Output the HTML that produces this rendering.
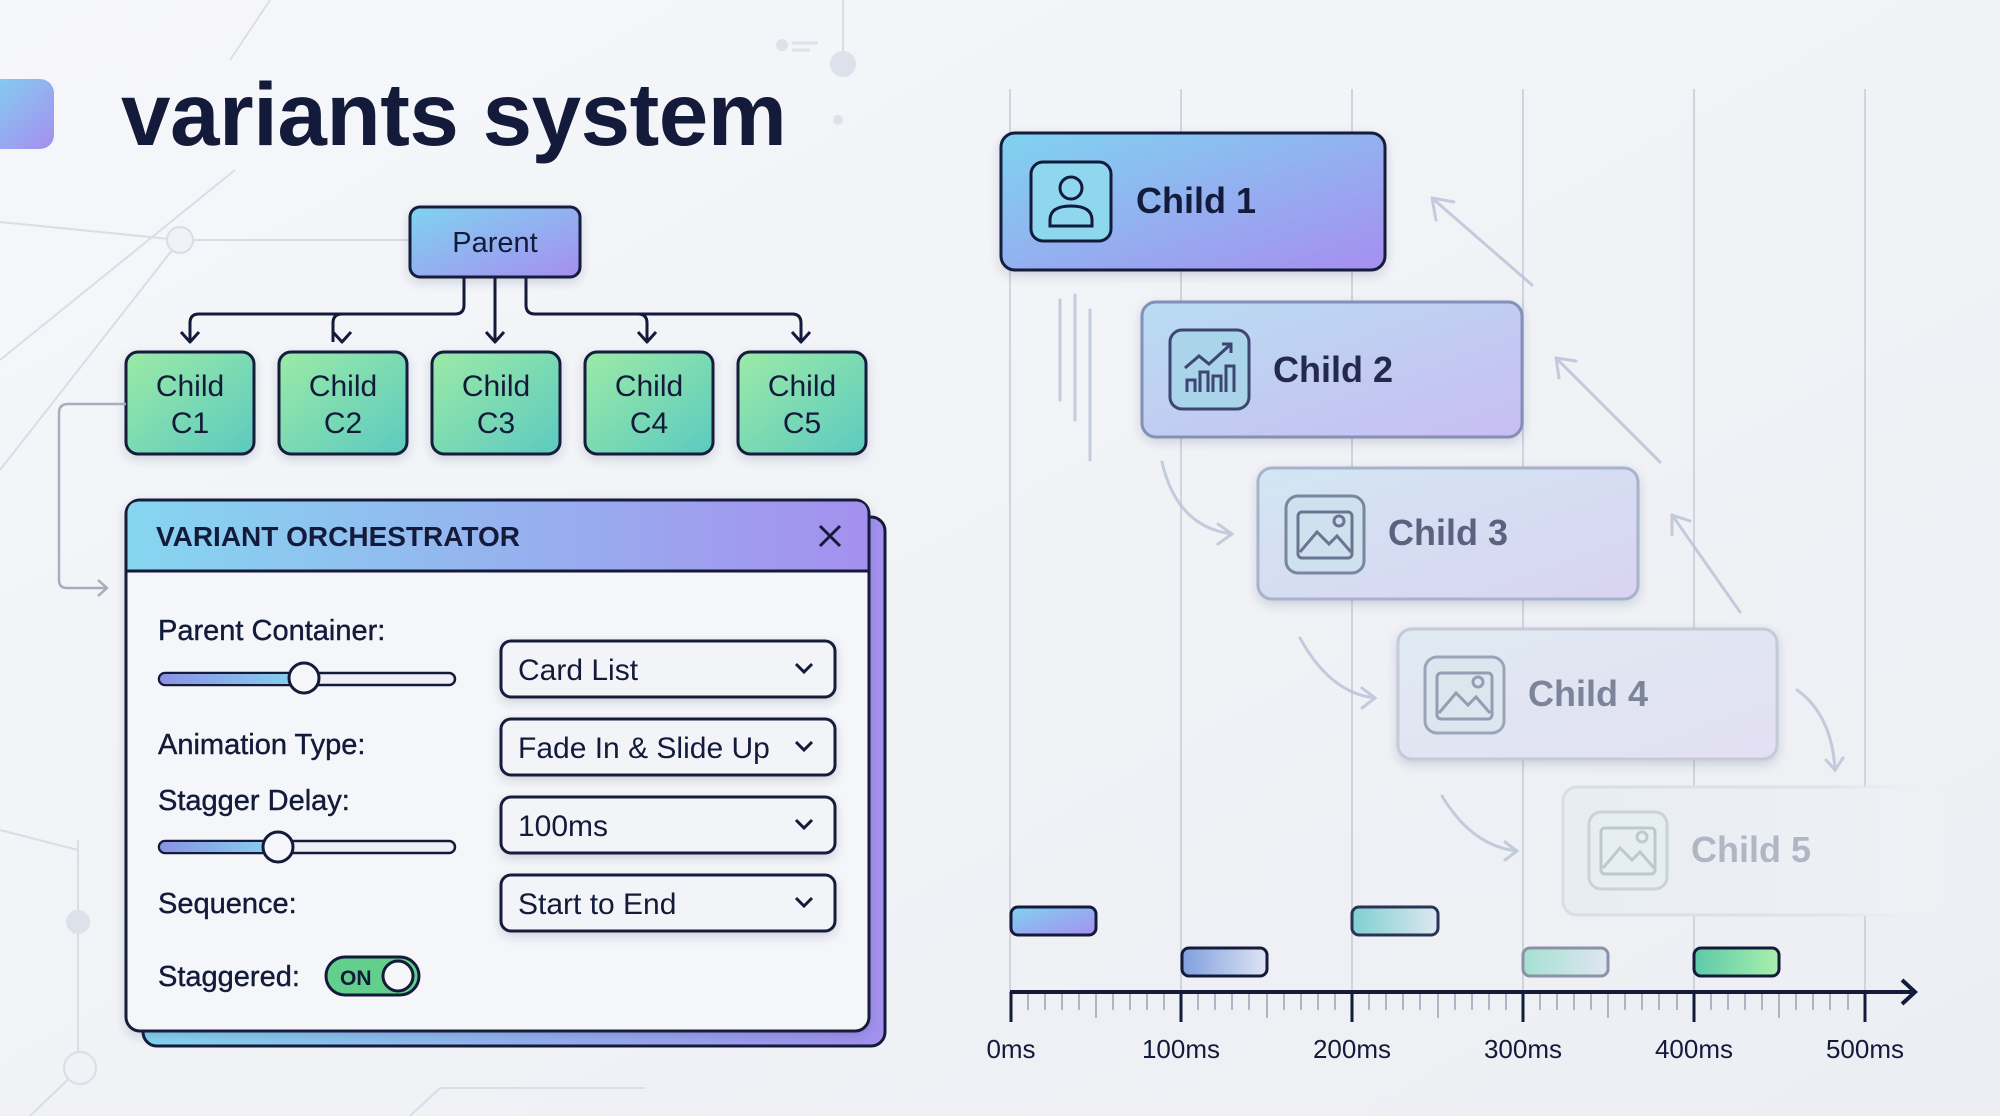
<!DOCTYPE html>
<html><head><meta charset="utf-8"><style>
html,body{margin:0;padding:0;width:2000px;height:1116px;overflow:hidden;background:#f1f2f6}
svg{display:block}
text{font-family:"Liberation Sans",sans-serif;fill:#131a3a}
</style></head><body>
<svg width="2000" height="1116" viewBox="0 0 2000 1116" xmlns="http://www.w3.org/2000/svg">
<defs>
<linearGradient id="bg" x1="0" y1="0" x2="1" y2="1"><stop offset="0" stop-color="#f6f7fa"/><stop offset="1" stop-color="#eceef3"/></linearGradient>
<linearGradient id="bp" x1="0" y1="0" x2="1" y2="1"><stop offset="0" stop-color="#7fd3f0"/><stop offset="1" stop-color="#a68ef0"/></linearGradient>
<linearGradient id="gr" x1="0" y1="0" x2="1" y2="1"><stop offset="0" stop-color="#9beaa6"/><stop offset="1" stop-color="#5ccac0"/></linearGradient>
<linearGradient id="hd" x1="0" y1="0" x2="1" y2="0"><stop offset="0" stop-color="#86d6f0"/><stop offset="1" stop-color="#a490ee"/></linearGradient>
<linearGradient id="c2" x1="0" y1="0" x2="1" y2="1"><stop offset="0" stop-color="#b9dcf2"/><stop offset="1" stop-color="#c9bdf2"/></linearGradient>
<linearGradient id="c3" x1="0" y1="0" x2="1" y2="1"><stop offset="0" stop-color="#d2e6f3"/><stop offset="1" stop-color="#d9d3f1"/></linearGradient>
<linearGradient id="c4" x1="0" y1="0" x2="1" y2="1"><stop offset="0" stop-color="#e0eaf2"/><stop offset="1" stop-color="#e2dff2"/></linearGradient>
<linearGradient id="c5" x1="0" y1="0" x2="1" y2="0"><stop offset="0" stop-color="#e8edf1"/><stop offset="1" stop-color="#eef0f4"/></linearGradient>
<linearGradient id="c5s" x1="0" y1="0" x2="1" y2="0"><stop offset="0" stop-color="#d8dde6"/><stop offset="0.7" stop-color="#dfe3ea"/><stop offset="1" stop-color="#eef0f4" stop-opacity="0"/></linearGradient>
<linearGradient id="sl" x1="0" y1="0" x2="1" y2="0"><stop offset="0" stop-color="#8a92e4"/><stop offset="1" stop-color="#86d4ef"/></linearGradient>
<linearGradient id="b2" x1="0" y1="0" x2="1" y2="0"><stop offset="0" stop-color="#7f9fe0"/><stop offset="1" stop-color="#dfe4f2"/></linearGradient>
<linearGradient id="b3" x1="0" y1="0" x2="1" y2="0"><stop offset="0" stop-color="#7fd0d0"/><stop offset="1" stop-color="#dde7f0"/></linearGradient>
<linearGradient id="b4" x1="0" y1="0" x2="1" y2="0"><stop offset="0" stop-color="#a6e0d2"/><stop offset="1" stop-color="#dfe6f0"/></linearGradient>
<linearGradient id="b5" x1="0" y1="0" x2="1" y2="0"><stop offset="0" stop-color="#5cc9a8"/><stop offset="1" stop-color="#a9f0ad"/></linearGradient>
<filter id="sh" x="-10%" y="-10%" width="130%" height="140%"><feDropShadow dx="0" dy="4" stdDeviation="5" flood-color="#2a3560" flood-opacity="0.18"/></filter>
</defs>
<rect width="2000" height="1116" fill="url(#bg)"/>
<g stroke="#d9dde6" stroke-width="2" fill="none">
<line x1="0" y1="222" x2="180" y2="240"/><line x1="180" y1="240" x2="410" y2="240"/>
<line x1="0" y1="360" x2="235" y2="170"/><line x1="180" y1="240" x2="0" y2="470"/>
<line x1="270" y1="0" x2="230" y2="60"/>
<line x1="843" y1="0" x2="843" y2="60"/>
<line x1="0" y1="830" x2="78" y2="850"/><line x1="78" y1="840" x2="78" y2="1060"/>
<line x1="30" y1="1116" x2="80" y2="1068"/><line x1="410" y1="1116" x2="440" y2="1088"/><line x1="440" y1="1088" x2="645" y2="1088"/>
<circle cx="180" cy="240" r="13" fill="#f1f2f6"/><circle cx="80" cy="1068" r="16" fill="#f1f2f6"/>
</g>
<circle cx="843" cy="64" r="13" fill="#dde1e9"/><circle cx="838" cy="120" r="5" fill="#dde1e9"/><circle cx="78" cy="922" r="12" fill="#dde1e9"/>
<circle cx="782" cy="45" r="6" fill="#dde1e9"/><line x1="792" y1="43" x2="818" y2="43" stroke="#dde1e9" stroke-width="3"/><line x1="792" y1="50" x2="810" y2="50" stroke="#dde1e9" stroke-width="3"/>
<rect x="-20" y="79" width="74" height="70" rx="14" fill="url(#bp)"/>
<text x="121" y="145" font-size="89" font-weight="bold" letter-spacing="-0.5">variants system</text>
<g stroke="#131a3a" stroke-width="3" fill="none" stroke-linejoin="round">
<path d="M464 277 V305 q0 9 -9 9 H199 q-9 0 -9 9 V342"/>
<path d="M342 314 q-9 0 -9 9 V342"/>
<path d="M495 277 V342"/>
<path d="M526 277 V305 q0 9 9 9 H792 q9 0 9 9 V342"/>
<path d="M638 314 q9 0 9 9 V342"/>
<path d="M181 332 l9 10 9-10 M333 332 l9 10 9-10 M486 332 l9 10 9-10 M638 332 l9 10 9-10 M792 332 l9 10 9-10"/>
</g>
<rect x="410" y="207" width="170" height="70" rx="10" fill="url(#bp)" stroke="#131a3a" stroke-width="3" filter="url(#sh)"/>
<text x="495" y="252" font-size="29" text-anchor="middle">Parent</text>
<g font-size="30" text-anchor="middle">
<rect x="126" y="352" width="128" height="102" rx="12" fill="url(#gr)" stroke="#131a3a" stroke-width="3" filter="url(#sh)"/>
<rect x="279" y="352" width="128" height="102" rx="12" fill="url(#gr)" stroke="#131a3a" stroke-width="3" filter="url(#sh)"/>
<rect x="432" y="352" width="128" height="102" rx="12" fill="url(#gr)" stroke="#131a3a" stroke-width="3" filter="url(#sh)"/>
<rect x="585" y="352" width="128" height="102" rx="12" fill="url(#gr)" stroke="#131a3a" stroke-width="3" filter="url(#sh)"/>
<rect x="738" y="352" width="128" height="102" rx="12" fill="url(#gr)" stroke="#131a3a" stroke-width="3" filter="url(#sh)"/>
<text x="190" y="396">Child</text><text x="190" y="433">C1</text>
<text x="343" y="396">Child</text><text x="343" y="433">C2</text>
<text x="496" y="396">Child</text><text x="496" y="433">C3</text>
<text x="649" y="396">Child</text><text x="649" y="433">C4</text>
<text x="802" y="396">Child</text><text x="802" y="433">C5</text>
</g>
<path d="M126 404 H68 q-9 0 -9 9 V580 q0 8 8 8 H106 M98 580 l9 8 -9 8" stroke="#a6adbd" stroke-width="2.5" fill="none"/>
<rect x="143" y="517" width="742" height="529" rx="14" fill="url(#hd)" stroke="#131a3a" stroke-width="3"/>
<rect x="126" y="500" width="743" height="531" rx="14" fill="#f5f6f9" stroke="#131a3a" stroke-width="3" filter="url(#sh)"/>
<path d="M127.5 571 V514 q0 -12.5 12.5 -12.5 H855 q12.5 0 12.5 12.5 V571 Z" fill="url(#hd)"/>
<line x1="126" y1="571" x2="869" y2="571" stroke="#131a3a" stroke-width="3"/>
<text x="156" y="546" font-size="28" font-weight="bold">VARIANT ORCHESTRATOR</text>
<path d="M820 526 l20 20 M840 526 l-20 20" stroke="#131a3a" stroke-width="3"/>
<g font-size="29" stroke="#131a3a" stroke-width="0.4">
<text x="158" y="640">Parent Container:</text>
<text x="158" y="754">Animation Type:</text>
<text x="158" y="810">Stagger Delay:</text>
<text x="158" y="913">Sequence:</text>
<text x="158" y="986">Staggered:</text>
</g>
<rect x="159" y="673" width="296" height="12" rx="6" fill="#eef0f6" stroke="#131a3a" stroke-width="2.5"/>
<rect x="160" y="674" width="144" height="10" rx="5" fill="url(#sl)"/>
<circle cx="304" cy="678" r="15" fill="#f5f6f9" stroke="#131a3a" stroke-width="3"/>
<rect x="159" y="841" width="296" height="12" rx="6" fill="#eef0f6" stroke="#131a3a" stroke-width="2.5"/>
<rect x="160" y="842" width="118" height="10" rx="5" fill="url(#sl)"/>
<circle cx="278" cy="847" r="15" fill="#f5f6f9" stroke="#131a3a" stroke-width="3"/>
<g font-size="30">
<rect x="501" y="641" width="334" height="56" rx="10" fill="#f3f4f8" stroke="#131a3a" stroke-width="3" filter="url(#sh)"/>
<rect x="501" y="719" width="334" height="56" rx="10" fill="#f3f4f8" stroke="#131a3a" stroke-width="3" filter="url(#sh)"/>
<rect x="501" y="797" width="334" height="56" rx="10" fill="#f3f4f8" stroke="#131a3a" stroke-width="3" filter="url(#sh)"/>
<rect x="501" y="875" width="334" height="56" rx="10" fill="#f3f4f8" stroke="#131a3a" stroke-width="3" filter="url(#sh)"/>
<text x="518" y="680">Card List</text>
<text x="518" y="758">Fade In &amp; Slide Up</text>
<text x="518" y="836">100ms</text>
<text x="518" y="914">Start to End</text>
</g>
<g stroke="#131a3a" stroke-width="3" fill="none"><path d="M796 664 l8 8 8-8"/><path d="M796 742 l8 8 8-8"/><path d="M796 820 l8 8 8-8"/><path d="M796 898 l8 8 8-8"/></g>
<rect x="326" y="957" width="93" height="38" rx="19" fill="#62d08c" stroke="#131a3a" stroke-width="3"/>
<text x="340" y="985" font-size="21" font-weight="bold">ON</text>
<circle cx="398" cy="976" r="15" fill="#f5f6f9" stroke="#131a3a" stroke-width="3"/>
<g stroke="#d0d4de" stroke-width="2">
<line x1="1010" y1="89" x2="1010" y2="992"/><line x1="1181" y1="89" x2="1181" y2="992"/><line x1="1352" y1="89" x2="1352" y2="992"/><line x1="1523" y1="89" x2="1523" y2="992"/><line x1="1694" y1="89" x2="1694" y2="992"/><line x1="1865" y1="89" x2="1865" y2="992"/>
</g>
<g stroke="#b8c0d6" stroke-width="3" fill="none" stroke-linecap="round" opacity="0.8">
<path d="M1532 285 L1432 198 M1432 198 l4 22 M1432 198 l22 4"/>
<path d="M1660 462 L1556 358 M1556 358 l3 20 M1556 358 l20 3"/>
<path d="M1740 612 L1672 515 M1672 515 l0 20 M1672 515 l18 6"/>
<path d="M1162 462 q15 65 70 72 M1218 524 l14 10 -14 10"/>
<path d="M1300 638 q30 55 75 60 M1362 688 l13 10 -13 10"/>
<path d="M1442 796 q30 50 75 55 M1505 842 l12 9 -12 9"/>
<path d="M1797 690 q35 25 38 80 M1826 760 l9 10 8-12"/>
<path d="M1060 300 V400 M1075 295 V420 M1090 310 V460"/>
</g>
<rect x="1563" y="787" width="380" height="128" rx="14" fill="url(#c5)" stroke="url(#c5s)" stroke-width="3"/>
<rect x="1589" y="812" width="78" height="77" rx="12" fill="#e6eef0" stroke="#c9d3d8" stroke-width="3"/>
<text x="1691" y="862" font-size="36" font-weight="bold" style="fill:#b0b6c6">Child 5</text>
<rect x="1398" y="629" width="379" height="130" rx="14" fill="url(#c4)" stroke="#c4cad8" stroke-width="3" filter="url(#sh)"/>
<rect x="1425" y="657" width="79" height="76" rx="12" fill="#dbe6ef" stroke="#9aa5b8" stroke-width="3"/>
<text x="1528" y="706" font-size="36" font-weight="bold" style="fill:#7c8499">Child 4</text>
<rect x="1258" y="468" width="380" height="131" rx="14" fill="url(#c3)" stroke="#a9b2cc" stroke-width="3" filter="url(#sh)"/>
<rect x="1286" y="496" width="78" height="77" rx="12" fill="#cfe1ee" stroke="#7a85a0" stroke-width="3"/>
<text x="1388" y="545" font-size="36" font-weight="bold" style="fill:#5a6280">Child 3</text>
<rect x="1142" y="302" width="380" height="135" rx="14" fill="url(#c2)" stroke="#8590b8" stroke-width="3" filter="url(#sh)"/>
<rect x="1170" y="330" width="79" height="79" rx="12" fill="#a9d4ea" stroke="#3d4670" stroke-width="3"/>
<text x="1273" y="382" font-size="36" font-weight="bold" style="fill:#232a4c">Child 2</text>
<rect x="1001" y="133" width="384" height="137" rx="14" fill="url(#bp)" stroke="#131a3a" stroke-width="3" filter="url(#sh)"/>
<rect x="1031" y="162" width="80" height="79" rx="12" fill="#8fd6ef" stroke="#131a3a" stroke-width="3"/>
<text x="1136" y="213" font-size="36" font-weight="bold">Child 1</text>
<g fill="none" stroke-width="3">
<circle cx="1071" cy="188" r="11" stroke="#131a3a"/><path d="M1050 226 v-6 q0-14 21-14 q21 0 21 14 v6 z" stroke="#131a3a"/>
<path d="M1187 392 v-12 h8 v12 M1200 392 v-20 h8 v20 M1213 392 v-16 h8 v16 M1226 392 v-26 h8 v26 M1185 368 l14-12 10 8 22-20 M1222 344 h9 v9" stroke="#3d4670"/>
<g stroke="#6b7490"><rect x="1298" y="512" width="54" height="46" rx="4"/><path d="M1300 552 l17-20 12 12 8-8 14 16"/><circle cx="1339" cy="521" r="5"/></g>
<g stroke="#949db2"><rect x="1437" y="673" width="55" height="46" rx="4"/><path d="M1439 713 l17-20 12 12 8-8 14 16"/><circle cx="1478" cy="682" r="5"/></g>
<g stroke="#c0c8cf"><rect x="1601" y="828" width="54" height="46" rx="4"/><path d="M1603 868 l17-20 12 12 8-8 14 16"/><circle cx="1642" cy="837" r="5"/></g>
</g>
<g stroke-width="3">
<rect x="1011" y="907" width="85" height="28" rx="7" fill="url(#bp)" stroke="#131a3a"/>
<rect x="1352" y="907" width="86" height="28" rx="7" fill="url(#b3)" stroke="#2a3356"/>
<rect x="1182" y="948" width="85" height="28" rx="7" fill="url(#b2)" stroke="#131a3a"/>
<rect x="1523" y="948" width="85" height="28" rx="7" fill="url(#b4)" stroke="#8a92aa"/>
<rect x="1694" y="948" width="85" height="28" rx="7" fill="url(#b5)" stroke="#131a3a"/>
</g>
<line x1="1010" y1="992" x2="1912" y2="992" stroke="#131a3a" stroke-width="4"/>
<path d="M1902 980 l13 12 -13 12" stroke="#131a3a" stroke-width="4" fill="none"/>
<g stroke="#131a3a" stroke-width="3">
<line x1="1011" y1="992" x2="1011" y2="1022"/><line x1="1181" y1="992" x2="1181" y2="1022"/><line x1="1352" y1="992" x2="1352" y2="1022"/><line x1="1523" y1="992" x2="1523" y2="1022"/><line x1="1694" y1="992" x2="1694" y2="1022"/><line x1="1865" y1="992" x2="1865" y2="1022"/>
</g>
<g stroke="#9aa1b4" stroke-width="1.5">
<path d="M1028 994v16M1045 994v16M1062 994v16M1079 994v16M1096 994v24M1113 994v16M1130 994v16M1147 994v16M1164 994v16
M1198 994v16M1215 994v16M1232 994v16M1249 994v16M1267 994v24M1284 994v16M1301 994v16M1318 994v16M1335 994v16
M1369 994v16M1386 994v16M1403 994v16M1420 994v16M1438 994v24M1455 994v16M1472 994v16M1489 994v16M1506 994v16
M1540 994v16M1557 994v16M1574 994v16M1591 994v16M1608 994v24M1625 994v16M1642 994v16M1659 994v16M1677 994v16
M1711 994v16M1728 994v16M1745 994v16M1762 994v16M1779 994v24M1796 994v16M1813 994v16M1830 994v16M1848 994v16"/>
</g>
<g font-size="26" text-anchor="middle">
<text x="1011" y="1058">0ms</text><text x="1181" y="1058">100ms</text><text x="1352" y="1058">200ms</text><text x="1523" y="1058">300ms</text><text x="1694" y="1058">400ms</text><text x="1865" y="1058">500ms</text>
</g>
</svg>
</body></html>
